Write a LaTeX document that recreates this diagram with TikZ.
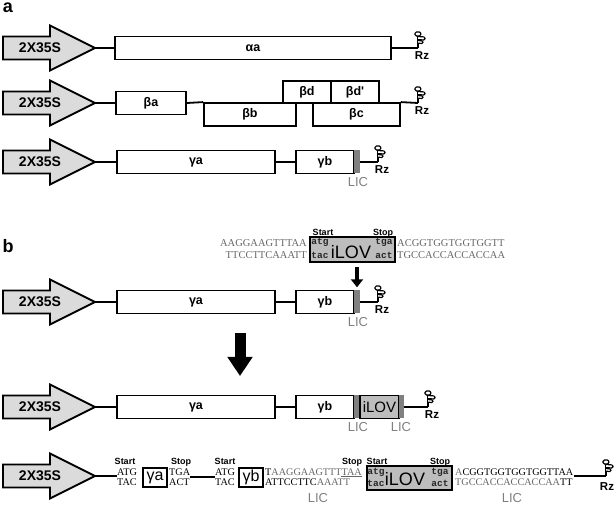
\documentclass[tikz,border=0pt]{standalone}
\usepackage{fontspec}
\setmainfont{Liberation Sans}
\newfontfamily\ser{Liberation Serif}
\newfontfamily\mono{Liberation Mono}
\usetikzlibrary{arrows.meta}
\definecolor{licg}{gray}{0.5}
\definecolor{seqg}{gray}{0.40}
\definecolor{promg}{gray}{0.86}
\definecolor{ilovg}{gray}{0.74}
\newcommand\fs[1]{\fontsize{#1}{#1}\selectfont}
\newcommand\promoter[2]{%
  \draw[promshape] (3,#2-11.5) -- (50,#2-11.5) -- (50,#2-22.5) -- (95,#2) -- (50,#2+22.5) -- (50,#2+11.5) -- (3,#2+11.5) -- cycle;
  \node[promtext] (#1t) at (40,#2) {2X35S};
  \coordinate (#1) at (95,#2);}
\tikzset{
  ln/.style={line width=1.8pt},
  thickln/.style={line width=2.6pt},
  promshape/.style={draw, line width=1.8pt, fill=promg, line join=miter},
  promtext/.style={font=\fs{14}\bfseries, inner sep=0pt},
  gbox/.style={draw, line width=1.8pt, fill=white, inner sep=0pt, font=\fs{12.5}\bfseries},
  sbox/.style={draw, line width=1.6pt, fill=white, inner sep=0pt, minimum width=24pt, minimum height=19pt, font=\fs{16}},
  licbar/.style={fill=licg, inner sep=0pt, minimum width=6pt, minimum height=23pt},
  ibox/.style={draw, line width=1.6pt, fill=ilovg, inner sep=0pt},
  rzt/.style={font=\fs{11.5}\bfseries, inner sep=0pt},
  lict/.style={font=\fs{13}, text=licg, inner sep=0pt},
  plabel/.style={font=\fs{18}\bfseries, inner sep=0pt},
  small/.style={font=\fs{9}\bfseries, inner sep=0pt, anchor=base},
  codon/.style={font=\mono\bfseries\fs{9.5}, inner sep=0pt, anchor=base, text=black!85},
  iltxt/.style={font=\fs{18}, inner sep=0pt},
  seqa/.style={font=\ser\fontsize{10.5}{12}\selectfont, inner sep=0pt, text=seqg},
  seqb/.style={font=\ser\fontsize{10.2}{10.6}\selectfont, inner sep=0pt, align=left, anchor=west},
  smallarr/.style={line width=4pt, -{Triangle[length=8pt,width=12pt]}},
  bigarr/.style={line width=11pt, -{Triangle[length=19pt,width=24pt]}},
  rzl/.style={line width=1.2pt, line join=round},
  rzsym/.pic={
    \draw[line width=1.5pt] (0,0) -- (0,-12);
    \draw[rzl, fill=white, rounded corners=1.4pt] (-3,-12) rectangle (2.8,-16);
    \draw[rzl, fill=white, rounded corners=1.2pt] (0,-11.5) -- (7,-11) -- (7,-8) -- (0,-8.3);
    \draw[rzl, fill=white, rounded corners=1.2pt] (0,-7.5) -- (5,-7) -- (5,-4.4) -- (0,-4.8);
  }
}
\begin{document}
\begin{tikzpicture}[x=1pt,y=-1pt]
\useasboundingbox (0,0) rectangle (614,505);

% ---------- panel a ----------
\node[plabel] (la) at (8,8) {a};

% row alpha
\promoter{p1}{48}
\node[gbox, minimum width=276pt, minimum height=23pt] (aa) at (253,48) {αa};
\coordinate (rz1) at (418,48);
\draw[ln] (p1) -- (aa.west);
\draw[ln] (aa.east) -- (rz1);
\pic at (rz1) {rzsym};
\node[rzt] (rzt1) at (422,56) {Rz};

% row beta
\promoter{p2}{103}
\node[gbox, minimum width=70pt, minimum height=23pt] (ba) at (151,103) {βa};
\node[gbox, minimum width=92pt, minimum height=23pt] (bb) at (250,114.5) {βb};
\node[gbox, minimum width=87pt, minimum height=23pt] (bc) at (356.5,114.5) {βc};
\node[gbox, minimum width=48pt, minimum height=22pt] (bd) at (307,92) {βd};
\node[gbox, minimum width=48pt, minimum height=22pt] (bd2) at (355,92) {βd\textquotesingle};
\coordinate (rz2) at (418,103);
\draw[ln] (p2) -- (ba.west);
\draw[ln] (ba.east) -- (bb.north west);
\draw[ln] (bc.north east) -- (rz2);
\pic at (rz2) {rzsym};
\node[rzt] (rzt2) at (422,111) {Rz};

% row gamma
\promoter{p3}{162}
\node[gbox, minimum width=158pt, minimum height=23pt] (ga1) at (196,162) {γa};
\node[gbox, minimum width=58pt, minimum height=23pt] (gb1) at (325,162) {γb};
\node[licbar] (lic1) at (357,162) {};
\coordinate (rz3) at (378,162);
\draw[ln] (p3) -- (ga1.west);
\draw[ln] (ga1.east) -- (gb1.west);
\draw[ln] (lic1.east) -- (rz3);
\pic at (rz3) {rzsym};
\node[rzt] (rzt3) at (382,170) {Rz};
\node[lict] (lt1) at (358,182) {LIC};

% ---------- panel b ----------
\node[plabel] (lb) at (8,246) {b};

% insert sequence
\node[seqa, anchor=east, align=right] (sl1) at (307,249) {AAGGAAGTTTAA\\TTCCTTCAAATT};
\node[ibox, minimum width=85pt, minimum height=25pt] (ilovA) at (352.5,249.5) {};
\node[codon] (ca1) at (320,245) {atg};
\node[codon] (ca2) at (320,259) {tac};
\node[iltxt] (ilA) at (351,252) {iLOV};
\node[codon] (ca3) at (384,245) {tga};
\node[codon] (ca4) at (384,259) {act};
\node[small] (st1) at (323,235.5) {Start};
\node[small] (sp1) at (383,235.5) {Stop};
\node[seqa, anchor=west, align=left] (sr1) at (397,249) {ACGGTGGTGGTGGTT\\TGCCACCACCACCAA};

% row b1
\promoter{p4}{302}
\node[gbox, minimum width=158pt, minimum height=23pt] (ga2) at (196,302) {γa};
\node[gbox, minimum width=58pt, minimum height=23pt] (gb2) at (325,302) {γb};
\node[licbar] (lic2) at (357,302) {};
\coordinate (rz4) at (378,302);
\draw[ln] (p4) -- (ga2.west);
\draw[ln] (ga2.east) -- (gb2.west);
\draw[ln] (lic2.east) -- (rz4);
\pic at (rz4) {rzsym};
\node[rzt] (rzt4) at (382,310) {Rz};
\node[lict] (lt2) at (358,322) {LIC};
\coordinate (sa) at (ilovA.south -| lic2.north);
\draw[smallarr] ([yshift=-4pt]sa) -- ([yshift=3pt]lic2.north);

% big arrow
\coordinate (bigS) at (240,333);
\coordinate (bigE) at (240,376);
\draw[bigarr] (bigS) -- (bigE);

% row b2
\promoter{p5}{407}
\node[gbox, minimum width=158pt, minimum height=23pt] (ga3) at (196,407) {γa};
\node[gbox, minimum width=58pt, minimum height=23pt] (gb3) at (325,407) {γb};
\node[licbar] (lic3) at (357,407) {};
\node[ibox, minimum width=39pt, minimum height=23pt, font=\fs{15}] (ilovC) at (379.5,407) {iLOV};
\node[licbar, minimum width=5pt] (lic4) at (401.5,407) {};
\coordinate (rz5) at (428,407);
\draw[ln] (p5) -- (ga3.west);
\draw[ln] (ga3.east) -- (gb3.west);
\draw[ln] (lic4.east) -- (rz5);
\pic at (rz5) {rzsym};
\node[rzt] (rzt5) at (432,415) {Rz};
\node[lict] (lt3) at (358,427) {LIC};
\node[lict] (lt4) at (401,427) {LIC};

% row b3
\promoter{p6}{476}
\node[small] (st2) at (125,464.5) {Start};
\node[seqb] (atg1) at (117,477) {ATG\\TAC};
\node[sbox] (ga4) at (155,477.5) {γa};
\node[small] (sp2) at (181,464.5) {Stop};
\node[seqb] (tga1) at (169,477) {TGA\\ACT};
\node[small] (st3) at (225,464.5) {Start};
\node[seqb] (atg2) at (215,477) {ATG\\TAC};
\node[sbox] (gb4) at (251,477.5) {γb};
\node[seqb, text=seqg] (sl3) at (265,477) {\textcolor{black}{T}AAGGAAGTTTTAA\\\textcolor{black}{ATTCCTTC}AAATT};
\draw[line width=0.5pt, seqg] ([xshift=-21pt,yshift=-8.3pt]sl3.north east) -- ([yshift=-8.3pt]sl3.north east);
\node[small] (sp3) at (352,464.5) {Stop};
\node[lict] (lt5) at (318,498.5) {LIC};
\node[ibox, minimum width=85pt, minimum height=24pt] (ilovB) at (409.5,478) {};
\node[codon] (cb1) at (376,474.5) {atg};
\node[codon] (cb2) at (376,486.5) {tac};
\node[iltxt] (ilB) at (405,479) {iLOV};
\node[codon] (cb3) at (440,474.5) {tga};
\node[codon] (cb4) at (440,486.5) {act};
\node[small] (st4) at (377,464.5) {Start};
\node[small] (sp4) at (440,464.5) {Stop};
\node[seqb, text=seqg] (sr3) at (455,477) {A\textcolor{black}{CGGTGGTGGTGGTTAA}\\TGCCACCACCACCAA\textcolor{black}{TT}};
\node[lict] (lt6) at (512,498.5) {LIC};
\coordinate (rz6) at (606,476);
\draw[ln] (p6) -- (p6 -| atg1.west);
\draw[thickln] (tga1.east) -- (tga1.east -| atg2.west);
\draw[ln] (sr3.east |- rz6) -- (rz6);
\pic at (rz6) {rzsym};
\node[rzt] (rzt6) at (607,487) {Rz};
\end{tikzpicture}
\end{document}
